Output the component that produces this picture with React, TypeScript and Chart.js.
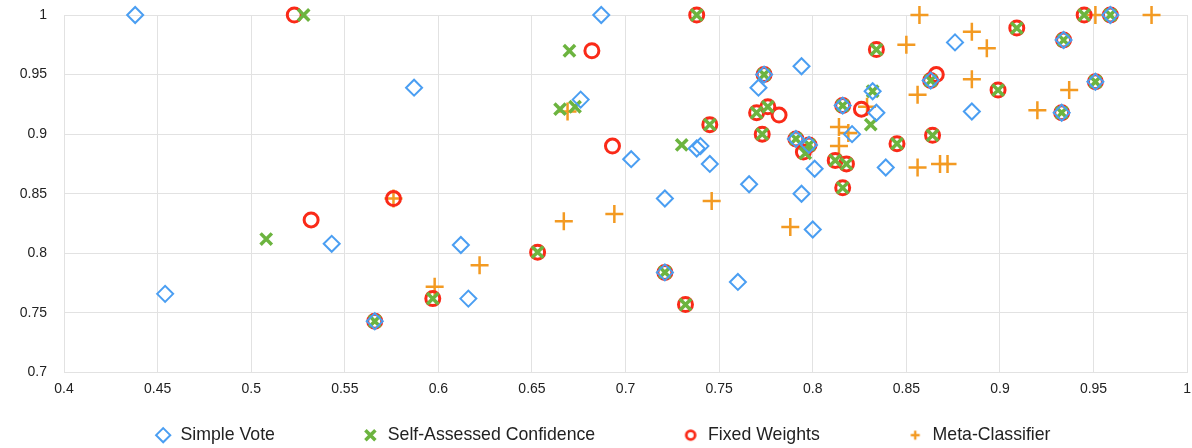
import React, { useEffect, useRef } from 'react';
import { Chart, registerables } from 'chart.js';

Chart.register(...registerables);

// [accuracy x, agreement y] per method
const simpleVote: [number, number][] = [
  [0.438, 1.0], [0.454, 0.766], [0.543, 0.808], [0.566, 0.743], [0.587, 0.939],
  [0.612, 0.807], [0.616, 0.762], [0.676, 0.929], [0.687, 1.0], [0.703, 0.879],
  [0.721, 0.846], [0.721, 0.784], [0.738, 0.888], [0.740, 0.890], [0.745, 0.875],
  [0.760, 0.776], [0.766, 0.858], [0.771, 0.939], [0.774, 0.950], [0.791, 0.896],
  [0.794, 0.957], [0.794, 0.850], [0.798, 0.891], [0.800, 0.820], [0.801, 0.871],
  [0.816, 0.924], [0.821, 0.900], [0.832, 0.936], [0.834, 0.918], [0.839, 0.872],
  [0.863, 0.945], [0.876, 0.977], [0.885, 0.919], [0.933, 0.918], [0.934, 0.979],
  [0.951, 0.944], [0.959, 1.0],
];

const selfAssessed: [number, number][] = [
  [0.508, 0.812], [0.528, 1.0], [0.566, 0.743], [0.597, 0.762], [0.653, 0.801],
  [0.665, 0.921], [0.670, 0.970], [0.673, 0.923], [0.721, 0.784], [0.730, 0.891],
  [0.732, 0.757], [0.738, 1.0], [0.745, 0.908], [0.770, 0.918], [0.773, 0.900],
  [0.774, 0.950], [0.776, 0.923], [0.791, 0.896], [0.796, 0.884], [0.798, 0.891],
  [0.812, 0.878], [0.816, 0.924], [0.816, 0.855], [0.818, 0.875], [0.831, 0.908],
  [0.832, 0.936], [0.834, 0.971], [0.845, 0.892], [0.863, 0.945], [0.864, 0.899],
  [0.899, 0.937], [0.909, 0.989], [0.933, 0.918], [0.934, 0.979], [0.945, 1.0],
  [0.951, 0.944], [0.959, 1.0],
];

const fixedWeights: [number, number][] = [
  [0.523, 1.0], [0.532, 0.828], [0.566, 0.743], [0.576, 0.846], [0.597, 0.762],
  [0.653, 0.801], [0.682, 0.970], [0.693, 0.890], [0.721, 0.784], [0.732, 0.757],
  [0.738, 1.0], [0.745, 0.908], [0.770, 0.918], [0.773, 0.900], [0.774, 0.950],
  [0.776, 0.923], [0.782, 0.916], [0.791, 0.896], [0.795, 0.885], [0.798, 0.891],
  [0.812, 0.878], [0.816, 0.924], [0.816, 0.855], [0.818, 0.875], [0.826, 0.921],
  [0.834, 0.971], [0.845, 0.892], [0.863, 0.945], [0.866, 0.950], [0.864, 0.899],
  [0.899, 0.937], [0.909, 0.989], [0.933, 0.918], [0.934, 0.979], [0.945, 1.0],
  [0.951, 0.944], [0.959, 1.0],
];

const metaClassifier: [number, number][] = [
  [0.576, 0.846], [0.598, 0.772], [0.622, 0.790], [0.667, 0.827], [0.669, 0.919],
  [0.694, 0.833], [0.746, 0.844], [0.788, 0.822], [0.814, 0.906], [0.814, 0.890],
  [0.819, 0.901], [0.829, 0.923], [0.850, 0.975], [0.856, 0.933], [0.856, 0.872],
  [0.857, 1.0], [0.868, 0.875], [0.872, 0.875], [0.885, 0.986], [0.885, 0.946],
  [0.893, 0.972], [0.920, 0.920], [0.937, 0.937], [0.951, 1.0], [0.981, 1.0],
];

const seriesNames = ['Simple Vote', 'Self-Assessed Confidence', 'Fixed Weights', 'Meta-Classifier'];

const xTicks = [0.4, 0.45, 0.5, 0.55, 0.6, 0.65, 0.7, 0.75, 0.8, 0.85, 0.9, 0.95, 1];
const yTicks = [0.7, 0.75, 0.8, 0.85, 0.9, 0.95, 1];

const FONT = "'Liberation Sans', Arial, Helvetica, sans-serif";
const GRID = '#e2e2e2';
const BLUE = '#4a9ef2';
const GREEN = '#6cb43f';
const RED = '#fa2a18';
const ORANGE = '#f39a22';
// extra spaces after each legend label to spread the items like the original
const legendGap = [12, 12, 12, 0];

const toPoints = (arr: [number, number][]) => arr.map(([x, y]) => ({ x, y }));

// small legend glyphs for the circle and plus (the legend draws one size for all)
const smallMarker = (size: number, draw: (g: CanvasRenderingContext2D) => void) => {
  const c = document.createElement('canvas');
  c.width = size;
  c.height = size;
  const g = c.getContext('2d');
  if (g) draw(g);
  return c;
};

const App: React.FC = () => {
  const chartRef = useRef<HTMLCanvasElement | null>(null);

  useEffect(() => {
    if (!chartRef.current) return;
    const ctx = chartRef.current.getContext('2d');
    if (!ctx) return;

    const legendCircle = smallMarker(14, (g) => {
      g.strokeStyle = RED;
      g.lineWidth = 2.8;
      g.beginPath();
      g.arc(7, 7, 4.4, 0, Math.PI * 2);
      g.stroke();
    });
    const legendPlus = smallMarker(12, (g) => {
      g.strokeStyle = ORANGE;
      g.lineWidth = 2.4;
      g.beginPath();
      g.moveTo(1.5, 6);
      g.lineTo(10.5, 6);
      g.moveTo(6, 1.5);
      g.lineTo(6, 10.5);
      g.stroke();
    });
    const legendIcons: (HTMLCanvasElement | null)[] = [null, null, legendCircle, legendPlus];

    const none = 'rgba(0,0,0,0)';
    const myChart = new Chart(ctx, {
      type: 'scatter',
      data: {
        datasets: [
          {
            label: seriesNames[0],
            data: toPoints(simpleVote),
            pointStyle: 'rectRot',
            radius: 8,
            borderWidth: 2,
            borderColor: BLUE,
            backgroundColor: none,
            clip: false,
          },
          {
            label: seriesNames[1],
            data: toPoints(selfAssessed),
            pointStyle: 'crossRot',
            radius: 8,
            borderWidth: 3.5,
            borderColor: GREEN,
            backgroundColor: none,
            clip: false,
          },
          {
            label: seriesNames[2],
            data: toPoints(fixedWeights),
            pointStyle: 'circle',
            radius: 7,
            borderWidth: 3,
            borderColor: RED,
            backgroundColor: none,
            clip: false,
          },
          {
            label: seriesNames[3],
            data: toPoints(metaClassifier),
            pointStyle: 'cross',
            radius: 9,
            borderWidth: 2.5,
            borderColor: ORANGE,
            backgroundColor: none,
            clip: false,
          },
        ],
      },
      options: {
        animation: false,
        responsive: true,
        maintainAspectRatio: false,
        layout: { autoPadding: false, padding: { top: 0, right: 0, left: 13.2, bottom: 0 } },
        plugins: {
          tooltip: { enabled: false },
          legend: {
            position: 'bottom',
            labels: {
              usePointStyle: true,
              boxWidth: 17,
              boxHeight: 10,
              padding: 28,
              color: '#222',
              font: { family: FONT, size: 17.7 },
              generateLabels: (chart) =>
                Chart.defaults.plugins.legend.labels.generateLabels(chart).map((item, i) => ({
                  ...item,
                  text: item.text + ' '.repeat(legendGap[i] || 0),
                  pointStyle: legendIcons[i] || item.pointStyle,
                })),
            },
          },
        },
        scales: {
          x: {
            type: 'linear',
            min: 0.4,
            max: 1,
            afterBuildTicks: (scale) => {
              scale.ticks = xTicks.map((value) => ({ value }));
            },
            grid: { color: GRID, drawTicks: true, tickLength: 7, tickColor: 'rgba(0,0,0,0)' },
            border: { color: GRID },
            ticks: {
              padding: 1,
              color: '#222',
              font: { family: FONT, size: 14 },
              callback: (v) => String(v),
            },
          },
          y: {
            type: 'linear',
            min: 0.7,
            max: 1,
            afterBuildTicks: (scale) => {
              scale.ticks = yTicks.map((value) => ({ value }));
            },
            grid: { color: GRID, drawTicks: true, tickLength: 10.4, tickColor: 'rgba(0,0,0,0)' },
            border: { color: GRID },
            ticks: {
              padding: 6.6,
              color: '#222',
              font: { family: FONT, size: 14 },
              callback: (v) => String(v),
            },
          },
        },
      },
    });

    return () => {
      myChart.destroy();
    };
  }, []);

  return (
    <div style={{ position: 'fixed', left: 0, top: 0, width: 1192, height: 454, background: '#fff' }}>
      <canvas ref={chartRef} />
    </div>
  );
};

export default App;
